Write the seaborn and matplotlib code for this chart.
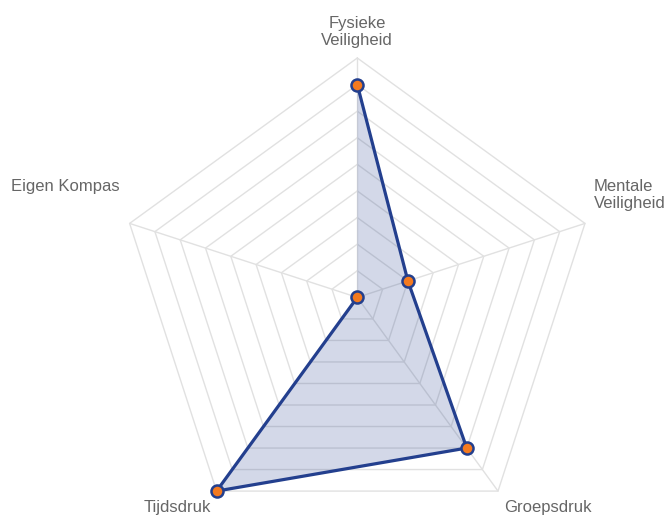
"""Radar chart: veiligheid en druk."""
import numpy as np
import pandas as pd
import matplotlib
matplotlib.use("Agg")
import matplotlib.pyplot as plt
import seaborn as sns

categories = ["Fysieke\nVeiligheid", "Mentale\nVeiligheid", "Groepsdruk", "Tijdsdruk", "Eigen Kompas"]
values = [8, 2, 7, 9, 0]
scale_max = 9
ring_steps = list(range(1, scale_max + 1))

LINE = "#233f8e"
DOT = "#f47a1f"
GRID = "#e1e1e1"
TEXT = "#666666"

sns.set_theme(style="white")
plt.rcParams["font.family"] = ["Liberation Sans", "DejaVu Sans"]

W, H = 671, 520
cx, cy = 357.3, 297.4          # centre in pixels
unit = 239.4 / scale_max       # pixels per value step

fig = plt.figure(figsize=(W / 100, H / 100), dpi=100)
ax = fig.add_axes([0, 0, 1, 1])
ax.set_xlim(-cx / unit, (W - cx) / unit)
ax.set_ylim(-(H - cy) / unit, cy / unit)
ax.set_axis_off()

n = len(categories)
angles = np.pi / 2 - 2 * np.pi * np.arange(n) / n
ux, uy = np.cos(angles), np.sin(angles)

# pentagon grid + spokes
for r in ring_steps:
    ax.plot(np.append(ux, ux[0]) * r, np.append(uy, uy[0]) * r, color=GRID, lw=1, zorder=1)
for x, y in zip(ux, uy):
    ax.plot([0, x * scale_max], [0, y * scale_max], color=GRID, lw=1, zorder=1)

df = pd.DataFrame({"categorie": categories, "waarde": values})
df["x"] = ux * df["waarde"]
df["y"] = uy * df["waarde"]
closed = pd.concat([df, df.iloc[:1]], ignore_index=True)

ax.fill(closed["x"], closed["y"], color=LINE, alpha=0.2, lw=0, zorder=2)
sns.lineplot(data=closed, x="x", y="y", sort=False, color=LINE, lw=2.3, ax=ax, zorder=3)
sns.scatterplot(data=df, x="x", y="y", color=DOT, edgecolor=LINE, linewidth=1.8,
                s=75, ax=ax, zorder=4)
ax.set_xlim(-cx / unit, (W - cx) / unit)
ax.set_ylim(-(H - cy) / unit, cy / unit)
ax.set_axis_off()

# label anchors in pixels with alignment
label_pos = [
    (357, 48, "center", "bottom"),
    (594, 179, "left", "top"),
    (504, 500, "left", "top"),
    (211, 500, "right", "top"),
    (120, 179, "right", "top"),
]
for lab, (px, py, ha, va) in zip(categories, label_pos):
    ax.text((px - cx) / unit, (cy - py) / unit, lab, ha=ha, va=va,
            multialignment=ha if ha != "center" else "center",
            fontsize=12, color=TEXT)

fig.savefig("out.png", dpi=100)
